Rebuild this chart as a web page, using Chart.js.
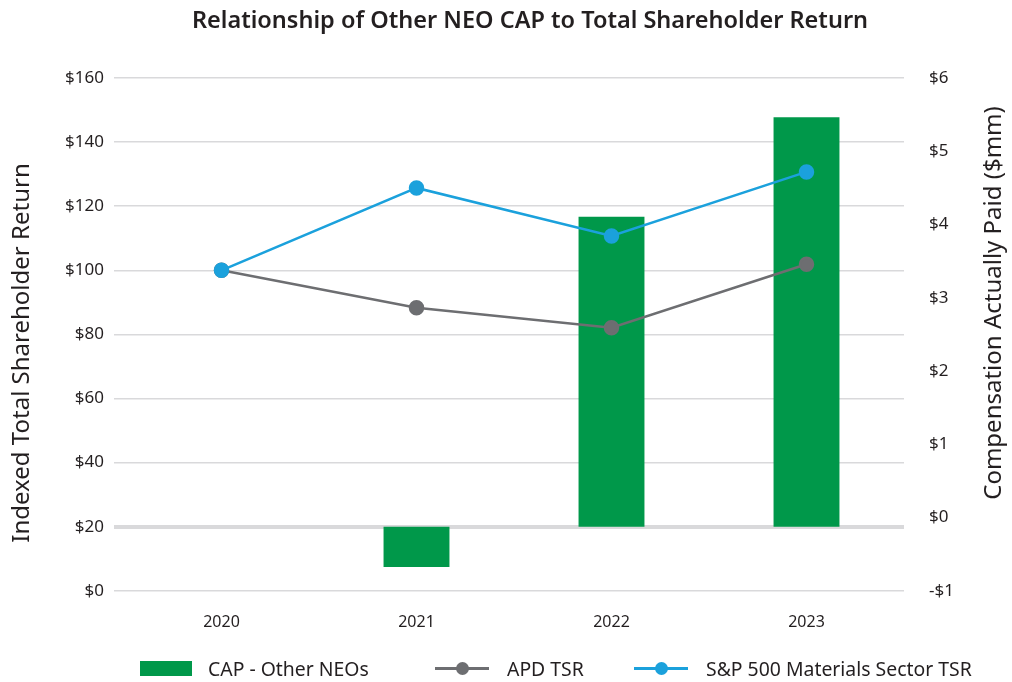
<!DOCTYPE html>
<html>
<head>
<meta charset="utf-8">
<script src="https://cdn.jsdelivr.net/npm/chart.js"></script>
<style>
  html, body { margin: 0; padding: 0; background: #fff; }
  #wrap { position: relative; width: 1012px; height: 682px; }
  #legend {
    position: absolute; left: 0; top: 656px; width: 1012px; height: 24px;
    font-family: "Noto Sans", sans-serif; font-size: 19.4px; color: #231f20;
  }
  .item { position: absolute; top: 0; height: 24px; display: flex; align-items: center; }
  .box { width: 52px; height: 15px; background: #00984a; margin-right: 16px; }
  .ln { position: relative; width: 54px; height: 3px; margin-right: 18px; }
  .ln span { position: absolute; left: 21px; top: -5px; width: 13px; height: 13px; border-radius: 50%; }
</style>
</head>
<body>
<div id="wrap">
  <canvas id="c" width="1012" height="682"></canvas>
  <div id="legend">
    <div class="item" style="left:140px"><div class="box"></div>CAP - Other NEOs</div>
    <div class="item" style="left:435px"><div class="ln" style="background:#6d6e71"><span style="background:#6d6e71"></span></div>APD TSR</div>
    <div class="item" style="left:634px"><div class="ln" style="background:#1ba1dc"><span style="background:#1ba1dc"></span></div>S&amp;P 500 Materials Sector TSR</div>
  </div>
</div>
<script>
// データ
const years = ['2020', '2021', '2022', '2023'];
const capOtherNeos = [0, -0.55, 4.23, 5.59];      // $mm
const apdTsr = [100, 88.3, 82.1, 101.9];
const spMaterialsTsr = [100, 125.7, 110.7, 130.7];
const leftTicks = [0, 20, 40, 60, 80, 100, 120, 140, 160];
const rightTicks = [-1, 0, 1, 2, 3, 4, 5, 6];

const GREEN = '#00984a';
const GRAY = '#6d6e71';
const BLUE = '#1ba1dc';
const FONT = '"Noto Sans", sans-serif';

const money = v => (v < 0 ? '-$' + Math.abs(v) : '$' + v);

// タイトルと軸タイトルは位置を細かく決めたいので自前で描く
const textPlugin = {
  id: 'textPlugin',
  afterDraw(chart) {
    const ctx = chart.ctx;
    ctx.save();
    ctx.fillStyle = '#231f20';
    ctx.textAlign = 'center';
    ctx.textBaseline = 'middle';
    ctx.font = '600 23.5px ' + FONT;
    ctx.fillText('Relationship of Other NEO CAP to Total Shareholder Return', 530, 21);

    ctx.font = '24px ' + FONT;
    ctx.translate(22, 353);
    ctx.rotate(-Math.PI / 2);
    ctx.fillText('Indexed Total Shareholder Return', 0, 0);
    ctx.restore();

    ctx.save();
    ctx.fillStyle = '#231f20';
    ctx.textAlign = 'center';
    ctx.textBaseline = 'middle';
    ctx.font = '24px ' + FONT;
    ctx.translate(994, 303);
    ctx.rotate(-Math.PI / 2);
    ctx.fillText('Compensation Actually Paid ($mm)', 0, 0);
    ctx.restore();
  }
};

new Chart(document.getElementById('c'), {
  data: {
    labels: years,
    datasets: [
      {
        type: 'line', label: 'S&P 500 Materials Sector TSR', data: spMaterialsTsr,
        yAxisID: 'y', borderColor: BLUE, backgroundColor: BLUE,
        borderWidth: 2.5, pointRadius: 6.5, pointHoverRadius: 6.5, tension: 0, order: 1
      },
      {
        type: 'line', label: 'APD TSR', data: apdTsr,
        yAxisID: 'y', borderColor: GRAY, backgroundColor: GRAY,
        borderWidth: 2.5, pointRadius: 6.5, pointHoverRadius: 6.5, tension: 0, order: 2
      },
      {
        type: 'bar', label: 'CAP - Other NEOs', data: capOtherNeos,
        yAxisID: 'yBar', backgroundColor: GREEN,
        barPercentage: 0.338, categoryPercentage: 1, order: 3
      }
    ]
  },
  options: {
    responsive: false,
    animation: false,
    layout: { padding: { top: 78, bottom: 36, left: 0, right: 0 } },
    plugins: {
      legend: { display: false },
      title: { display: false },
      tooltip: { enabled: false }
    },
    scales: {
      x: {
        grid: { display: false },
        border: { display: false },
        ticks: { font: { family: FONT, size: 16 }, color: '#231f20', padding: 14 }
      },
      y: {
        position: 'left',
        min: 0, max: 160,
        afterBuildTicks: s => { s.ticks = leftTicks.map(v => ({ value: v })); },
        afterFit: s => { s.width = 124; },
        border: { display: false },
        grid: {
          color: '#d9d9db',
          lineWidth: c => (c.tick && c.tick.value === 20 ? 4 : 1.5),
          tickLength: 10
        },
        ticks: {
          font: { family: FONT, size: 17 }, color: '#231f20', padding: 10,
          callback: v => '$' + v
        }
      },
      y1: {
        position: 'right',
        min: -1, max: 6,
        afterBuildTicks: s => { s.ticks = rightTicks.map(v => ({ value: v })); },
        afterFit: s => { s.width = 108; },
        border: { display: false },
        grid: { display: false },
        ticks: {
          font: { family: FONT, size: 17 }, color: '#231f20', padding: 17,
          callback: v => money(v)
        }
      },
      // 棒グラフ用の軸（0 を $20 の線に合わせる）
      yBar: {
        display: false,
        min: -0.875, max: 6.125
      }
    }
  },
  plugins: [textPlugin]
});
</script>
</body>
</html>
